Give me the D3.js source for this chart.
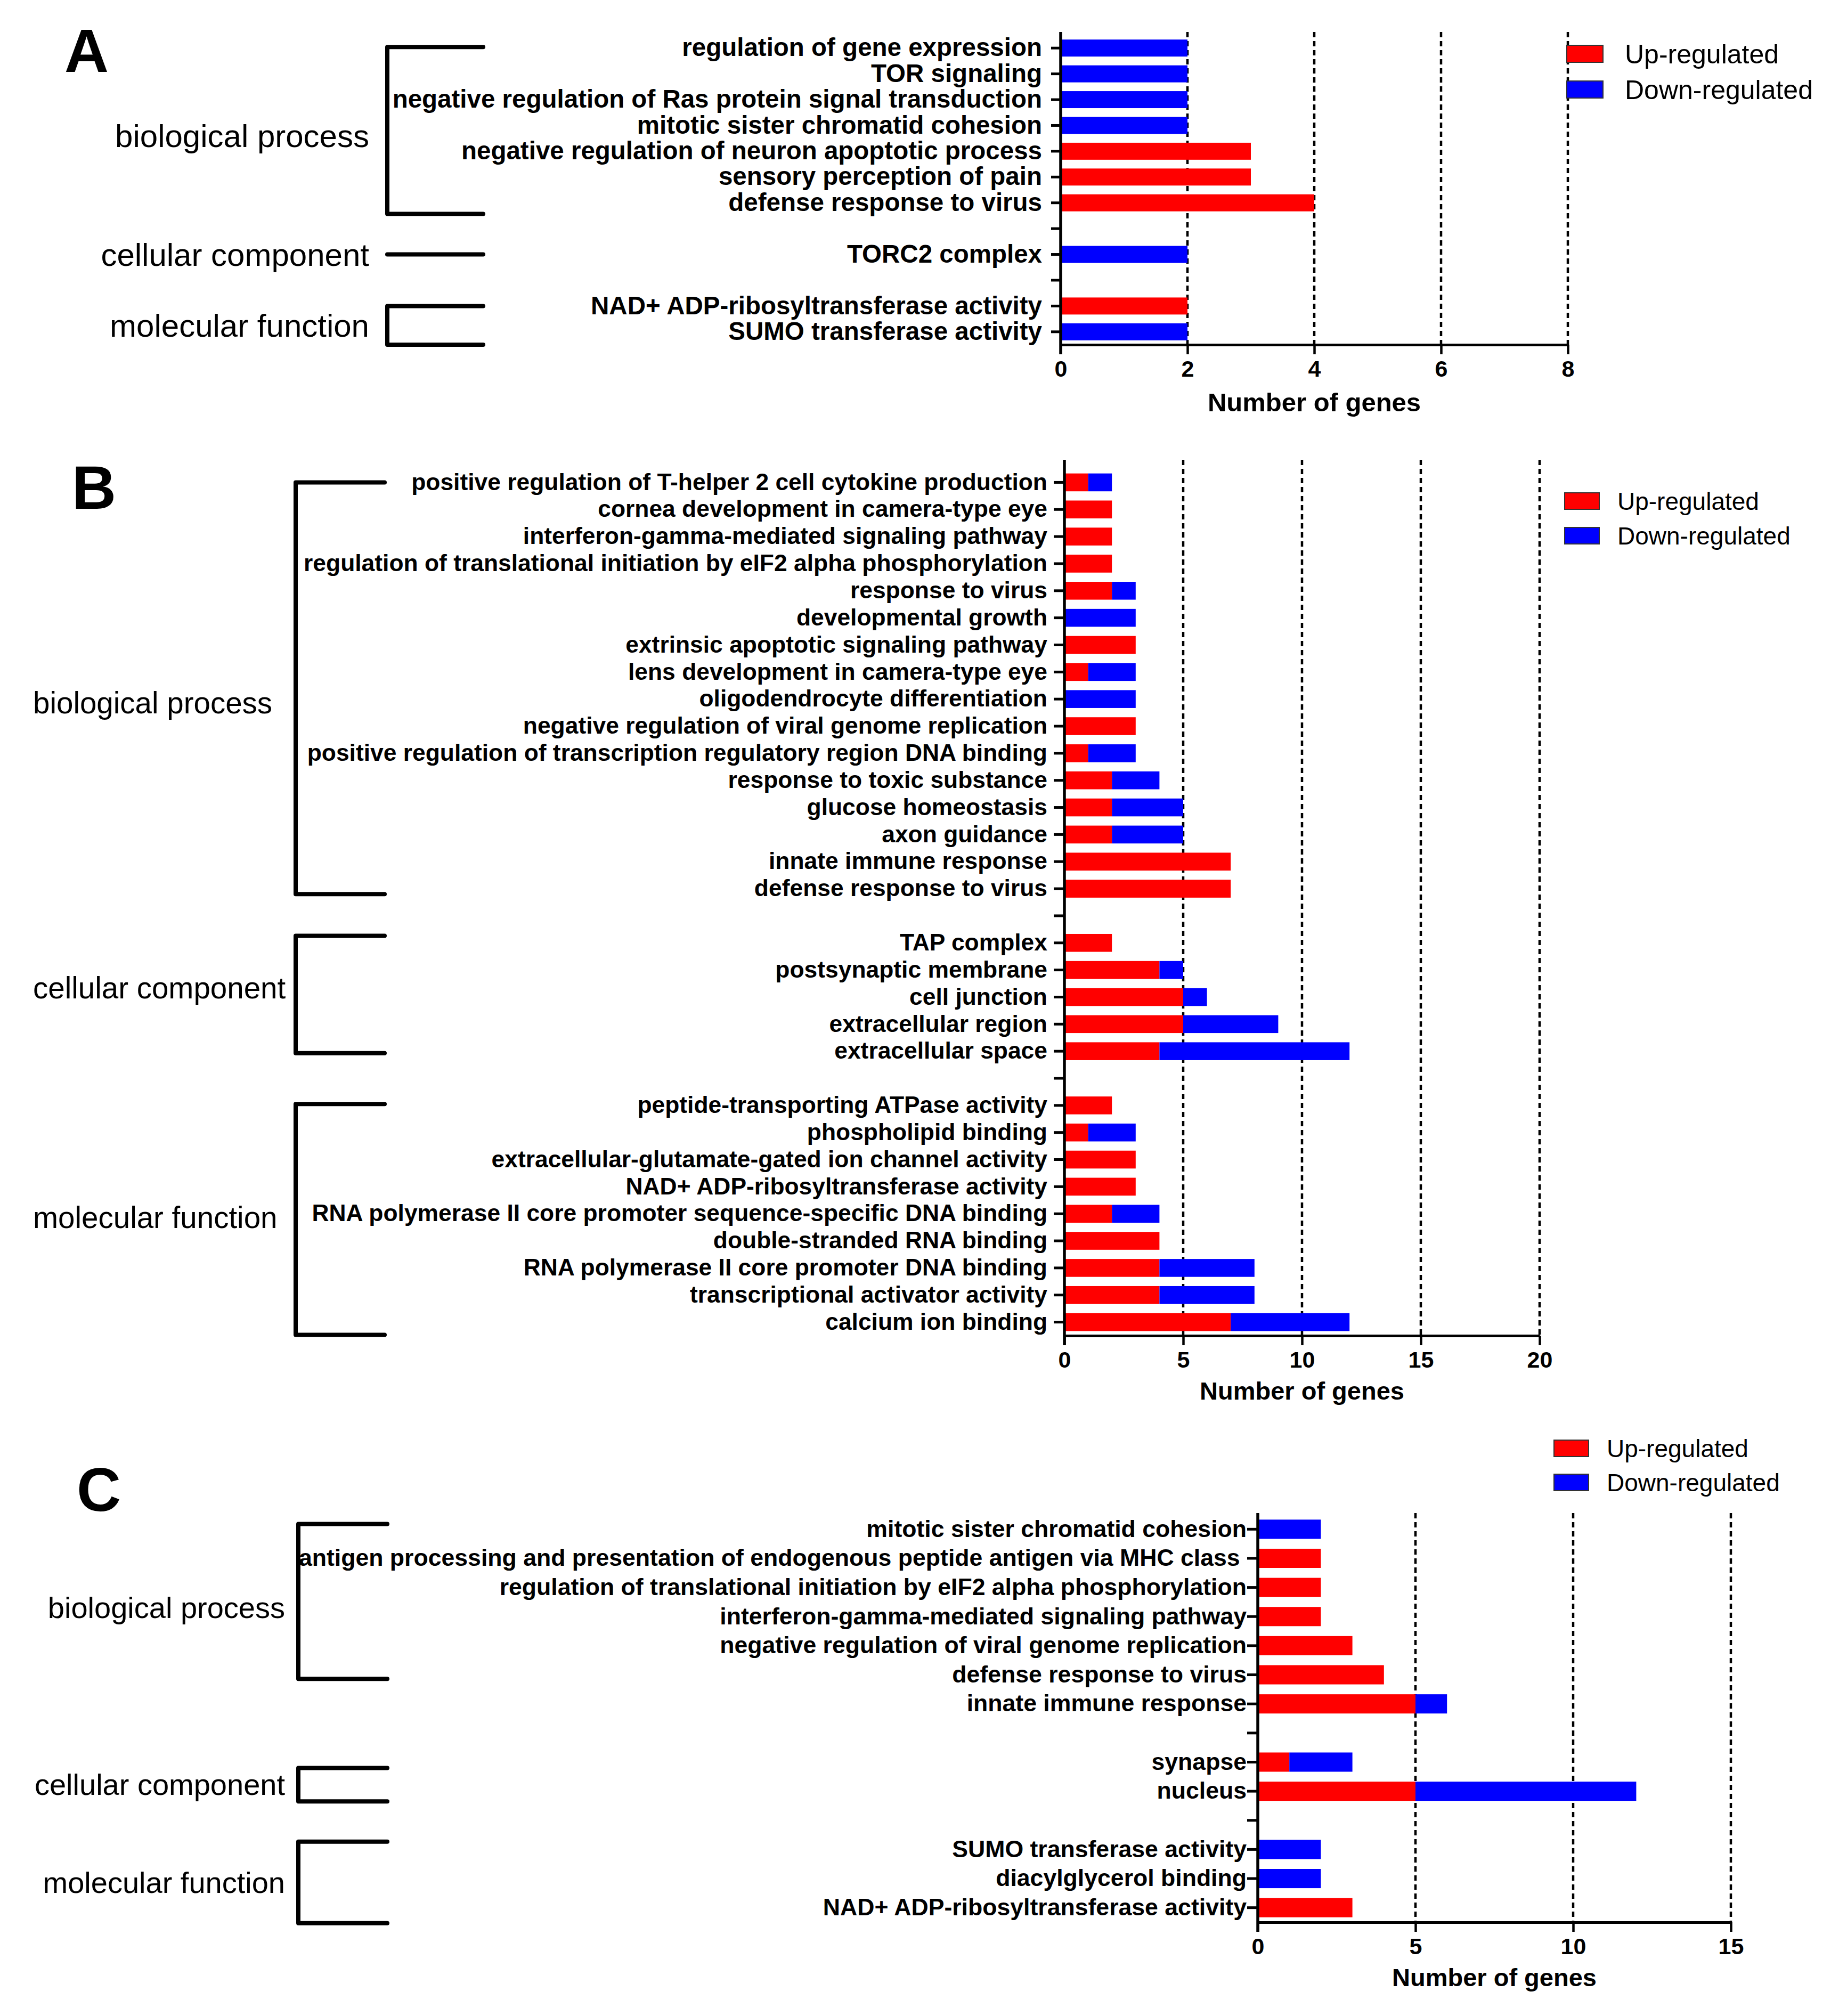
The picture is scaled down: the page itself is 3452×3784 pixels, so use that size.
<!DOCTYPE html>
<html>
<head>
<meta charset="utf-8">
<script src="https://cdn.jsdelivr.net/npm/d3@7"></script>
<style>
body{margin:0;background:#fff;}
text{font-family:"Liberation Sans",Arial,Helvetica,sans-serif;}
</style>
</head>
<body>
<svg id="chart" width="3452" height="3784"></svg>
<script>
// ---- data ----
const groupNames = ["biological process", "cellular component", "molecular function"];
const legendLabels = ["Up-regulated", "Down-regulated"];
const colors = ["#ff0000", "#0000ff"];
const axisTitle = "Number of genes";

// panel A
const aTerms = ["regulation of gene expression", "TOR signaling",
  "negative regulation of Ras protein signal transduction", "mitotic sister chromatid cohesion",
  "negative regulation of neuron apoptotic process", "sensory perception of pain",
  "defense response to virus",
  "TORC2 complex",
  "NAD+ ADP-ribosyltransferase activity", "SUMO transferase activity"];
const aUp   = [0, 0, 0, 0, 3, 3, 4, 0, 2, 0];
const aDown = [2, 2, 2, 2, 0, 0, 0, 2, 0, 2];
const aGroupSizes = [7, 1, 2];
const aTicks = [0, 2, 4, 6, 8];

// panel B
const bTerms = ["positive regulation of T-helper 2 cell cytokine production",
  "cornea development in camera-type eye", "interferon-gamma-mediated signaling pathway",
  "regulation of translational initiation by eIF2 alpha phosphorylation", "response to virus",
  "developmental growth", "extrinsic apoptotic signaling pathway", "lens development in camera-type eye",
  "oligodendrocyte differentiation", "negative regulation of viral genome replication",
  "positive regulation of transcription regulatory region DNA binding", "response to toxic substance",
  "glucose homeostasis", "axon guidance", "innate immune response", "defense response to virus",
  "TAP complex", "postsynaptic membrane", "cell junction", "extracellular region", "extracellular space",
  "peptide-transporting ATPase activity", "phospholipid binding",
  "extracellular-glutamate-gated ion channel activity", "NAD+ ADP-ribosyltransferase activity",
  "RNA polymerase II core promoter sequence-specific DNA binding", "double-stranded RNA binding",
  "RNA polymerase II core promoter DNA binding", "transcriptional activator activity", "calcium ion binding"];
const bUp   = [1, 2, 2, 2, 2, 0, 3, 1, 0, 3, 1, 2, 2, 2, 7, 7, 2, 4, 5, 5, 4, 2, 1, 3, 3, 2, 4, 4, 4, 7];
const bDown = [1, 0, 0, 0, 1, 3, 0, 2, 3, 0, 2, 2, 3, 3, 0, 0, 0, 1, 1, 4, 8, 0, 2, 0, 0, 2, 0, 4, 4, 5];
const bGroupSizes = [16, 5, 9];
const bTicks = [0, 5, 10, 15, 20];

// panel C
const cTerms = ["mitotic sister chromatid cohesion",
  "antigen processing and presentation of endogenous peptide antigen via MHC class ",
  "regulation of translational initiation by eIF2 alpha phosphorylation",
  "interferon-gamma-mediated signaling pathway", "negative regulation of viral genome replication",
  "defense response to virus", "innate immune response",
  "synapse", "nucleus",
  "SUMO transferase activity", "diacylglycerol binding", "NAD+ ADP-ribosyltransferase activity"];
const cUp   = [0, 2, 2, 2, 3, 4, 5, 1, 5, 0, 0, 3];
const cDown = [2, 0, 0, 0, 0, 0, 1, 2, 7, 2, 2, 0];
const cGroupSizes = [7, 2, 3];
const cTicks = [0, 5, 10, 15];

// ---- layout ----
const panels = [
  {letter: "A", terms: aTerms, up: aUp, down: aDown, sizes: aGroupSizes, ticks: aTicks,
   x0: 1991, x1: 2943, y0: 66, y1: 647, axisTop: 60,
   labelFont: 47.5, tickLen: 18, tickPad: 17, titleFont: 49, titleDy: 125,
   letterX: 121, letterY: 135,
   groupFont: 60, groupAnchor: "end", groupX: 693, bracketX: 727, bracketR: 907,
   brackets: [[-0.04, 6.43], [8, 8], [10, 11.5]], groupShift: [10, 0, 0],
   legX: 2941, legY: [85, 152], swW: 68, swH: 32, legFont: 50, legGap: 41},
  {letter: "B", terms: bTerms, up: bUp, down: bDown, sizes: bGroupSizes, ticks: bTicks,
   x0: 1998, x1: 2890, y0: 880, y1: 2507, axisTop: 863,
   labelFont: 44.4, tickLen: 20, tickPad: 12, titleFont: 47, titleDy: 120,
   letterX: 135, letterY: 955,
   groupFont: 56.5, groupAnchor: "start", groupX: 62, bracketX: 555, bracketR: 722,
   brackets: [[0, 15.2], [16.74, 21.07], [22.95, 31.47]], groupShift: [27, -12, -4],
   legX: 2937, legY: [925, 990], swW: 65, swH: 31, legFont: 46, legGap: 34},
  {letter: "C", terms: cTerms, up: cUp, down: cDown, sizes: cGroupSizes, ticks: cTicks,
   x0: 2361, x1: 3249, y0: 2843, y1: 3608, axisTop: 2840,
   labelFont: 44.6, tickLen: 20, tickPad: 1, titleFont: 47, titleDy: 120,
   letterX: 144, letterY: 2836,
   groupFont: 56, groupAnchor: "end", groupX: 535, bracketX: 560, bracketR: 727,
   brackets: [[-0.18, 5.14], [8.2, 9.35], [10.73, 13.53]], groupShift: [12, 0, 0],
   legX: 2917, legY: [2703, 2767], swW: 65, swH: 31, legFont: 46, legGap: 34}
];

const svg = d3.select("#chart");
svg.append("rect").attr("width", 3452).attr("height", 3784).attr("fill", "#fff");

panels.forEach(drawPanel);

function drawPanel(p) {
  const g = svg.append("g");

  // slots: terms with an empty slot between groups
  const slots = [], labelOf = {};
  let k = 0;
  p.sizes.forEach((n, gi) => {
    if (gi > 0) { slots.push("gap" + gi); labelOf["gap" + gi] = ""; }
    for (let j = 0; j < n; j++, k++) { slots.push("t" + k); labelOf["t" + k] = p.terms[k]; }
  });
  const rows = p.terms.map((t, i) => ({key: "t" + i, up: p.up[i], down: p.down[i]}));

  const y = d3.scaleBand().domain(slots).range([p.y0, p.y1]).paddingInner(0.34).paddingOuter(0.17);
  const x = d3.scaleLinear().domain([0, d3.max(p.ticks)]).range([p.x0, p.x1]);
  const slotY = d3.scaleLinear().domain([0, slots.length - 1])
    .range([y(slots[0]) + y.bandwidth() / 2, y(slots[slots.length - 1]) + y.bandwidth() / 2]);

  // dashed grid behind bars
  g.selectAll(".grid").data(p.ticks.filter(d => d > 0)).join("line")
    .attr("x1", x).attr("x2", x).attr("y1", p.axisTop).attr("y2", p.y1)
    .attr("stroke", "#000").attr("stroke-width", 4.5).attr("stroke-dasharray", "10,7");

  // stacked bars
  const series = d3.stack().keys(["up", "down"])(rows);
  g.selectAll(".series").data(series).join("g").attr("fill", (d, i) => colors[i])
    .selectAll("rect").data(d => d.filter(e => e[1] > e[0])).join("rect")
    .attr("x", d => x(d[0])).attr("width", d => x(d[1]) - x(d[0]))
    .attr("y", d => y(d.data.key)).attr("height", y.bandwidth());

  // y axis
  const ya = g.append("g").attr("transform", `translate(${p.x0},0)`)
    .call(d3.axisLeft(y).tickSize(p.tickLen).tickPadding(p.tickPad).tickFormat(d => labelOf[d]));
  ya.select(".domain").remove();
  ya.selectAll("line").attr("stroke-width", 5);
  ya.selectAll("text").attr("font-size", p.labelFont).attr("font-weight", "bold")
    .attr("fill", "#000").style("white-space", "pre");
  g.append("line").attr("x1", p.x0).attr("x2", p.x0).attr("y1", p.axisTop).attr("y2", p.y1 + 18)
    .attr("stroke", "#000").attr("stroke-width", 5.5);

  // x axis
  const xa = g.append("g").attr("transform", `translate(0,${p.y1})`)
    .call(d3.axisBottom(x).tickValues(p.ticks).tickSize(18).tickSizeOuter(0).tickPadding(11));
  xa.select(".domain").attr("stroke-width", 5);
  xa.selectAll("line").attr("stroke-width", 4.5);
  xa.selectAll("text").attr("font-size", 43).attr("font-weight", "bold").attr("fill", "#000");

  g.append("text").attr("x", (p.x0 + p.x1) / 2).attr("y", p.y1 + p.titleDy)
    .attr("text-anchor", "middle").attr("font-size", p.titleFont).attr("font-weight", "bold")
    .text(axisTitle);

  // panel letter
  g.append("text").attr("x", p.letterX).attr("y", p.letterY)
    .attr("font-size", 115).attr("font-weight", "bold").text(p.letter);

  // group brackets and names
  p.brackets.forEach((b, gi) => {
    const t = slotY(b[0]), bt = slotY(b[1]);
    const path = t === bt
      ? `M${p.bracketX},${t}H${p.bracketR}`
      : `M${p.bracketR},${t}H${p.bracketX}V${bt}H${p.bracketR}`;
    g.append("path").attr("d", path).attr("fill", "none").attr("stroke", "#000")
      .attr("stroke-width", 8).attr("stroke-linejoin", "round").attr("stroke-linecap", "round");
    g.append("text").attr("x", p.groupX)
      .attr("y", (t + bt) / 2 + 0.35 * p.groupFont + p.groupShift[gi])
      .attr("text-anchor", p.groupAnchor).attr("font-size", p.groupFont).text(groupNames[gi]);
  });

  // legend
  const leg = g.selectAll(".leg").data(legendLabels).join("g")
    .attr("transform", (d, i) => `translate(${p.legX},${p.legY[i]})`);
  leg.append("rect").attr("width", p.swW).attr("height", p.swH)
    .attr("fill", (d, i) => colors[i]).attr("stroke", "#333").attr("stroke-width", 2);
  leg.append("text").attr("x", p.swW + p.legGap).attr("y", p.swH / 2 + 0.35 * p.legFont)
    .attr("font-size", p.legFont).text(d => d);
}
</script>
</body>
</html>
